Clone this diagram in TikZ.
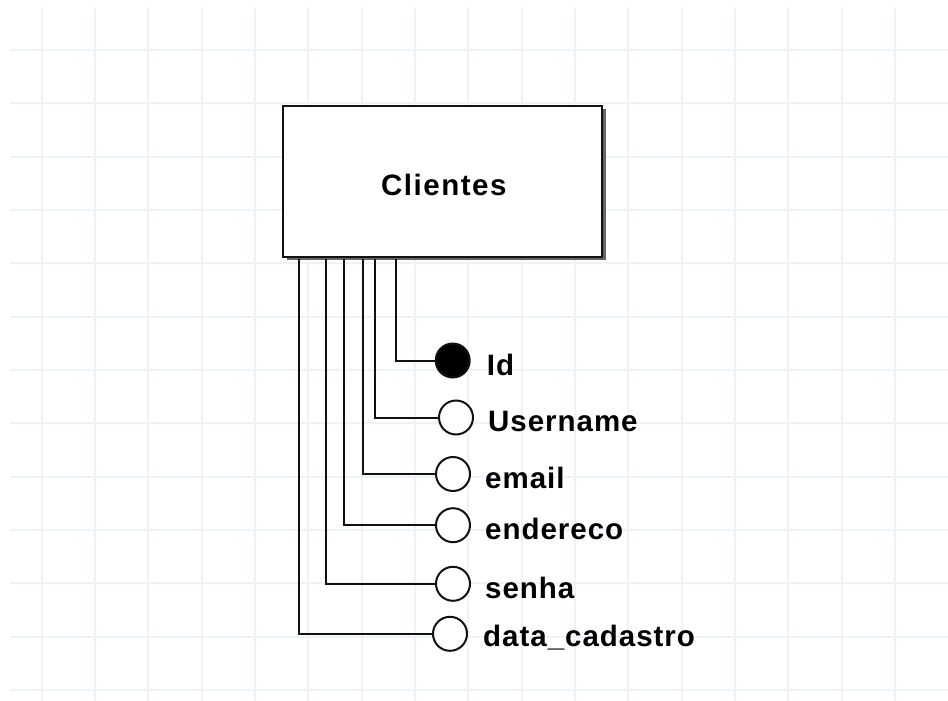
\documentclass[tikz,border=0pt]{standalone}
\usepackage{fontspec}
\setmainfont{Liberation Sans}
\usetikzlibrary{shadows}
\definecolor{gridblue}{HTML}{EEF3FA}
\definecolor{ink}{HTML}{111111}
\tikzset{
  entitybox/.style={draw=ink, line width=2pt, fill=white, minimum width=319pt, minimum height=151pt,
    inner sep=0pt,
    drop shadow={shadow xshift=3.5pt, shadow yshift=-3.5pt, fill=black!60, opacity=1}},
  entitytitle/.style={inner sep=0pt, font=\fontsize{29.5}{34}\selectfont\bfseries\addfontfeature{LetterSpace=5.2}},
  keyattr/.style={circle, draw=ink, fill=black, line width=2pt, minimum size=34pt, inner sep=0pt},
  attr/.style={circle, draw=ink, fill=white, line width=2pt, minimum size=34pt, inner sep=0pt},
  attrlabel/.style={anchor=west, inner sep=0pt, font=\fontsize{29.5}{34}\selectfont\bfseries\addfontfeature{LetterSpace=3.3}},
  conn/.style={draw=ink, line width=2pt},
  gridline/.style={draw=gridblue, line width=2pt}
}
\begin{document}
\begin{tikzpicture}[x=1pt, y=-1pt]
\useasboundingbox[fill=white] (0,0) rectangle (948,701);
% background grid
\foreach \k in {0,...,16} \draw[gridline] ({41.7+53.33*\k},7) -- ({41.7+53.33*\k},701);
\foreach \k in {0,...,12} \draw[gridline] (10,{50+53.33*\k}) -- (948,{50+53.33*\k});

% entity
\node[entitybox] (cli) at (442.8,181.2) {};
\node[entitytitle] (clititle) at ([xshift=1pt,yshift=-4pt]cli.center) {Clientes};

% attributes
\node[keyattr] (id) at (452.7,360.5) {};
\node[attr] (user) at (456,417.5) {};
\node[attr] (mail) at (453,474) {};
\node[attr] (addr) at (453,525.2) {};
\node[attr] (pass) at (453,583.8) {};
\node[attr] (date) at (450,633.8) {};

\node[attrlabel] at ([xshift=16pt,yshift=-4pt]id.east) {Id};
\node[attrlabel] at ([xshift=14pt,yshift=-4pt]user.east) {Username};
\node[attrlabel] at ([xshift=14pt,yshift=-4pt]mail.east) {email};
\node[attrlabel] at ([xshift=14pt,yshift=-4pt]addr.east) {endereco};
\node[attrlabel] at ([xshift=14pt,yshift=-4pt]pass.east) {senha};
\node[attrlabel] at ([xshift=15pt,yshift=-4pt]date.east) {data\_cadastro};

% connectors from the entity to each attribute
\draw[conn] ([xshift=113.4pt,yshift=-1pt]cli.south west) |- (id.west);
\draw[conn] ([xshift=92.4pt,yshift=-1pt]cli.south west) |- (user.west);
\draw[conn] ([xshift=81pt,yshift=-1pt]cli.south west) |- (mail.west);
\draw[conn] ([xshift=61.7pt,yshift=-1pt]cli.south west) |- (addr.west);
\draw[conn] ([xshift=43.4pt,yshift=-1pt]cli.south west) |- (pass.west);
\draw[conn] ([xshift=16.7pt,yshift=-1pt]cli.south west) |- (date.west);
\end{tikzpicture}
\end{document}
